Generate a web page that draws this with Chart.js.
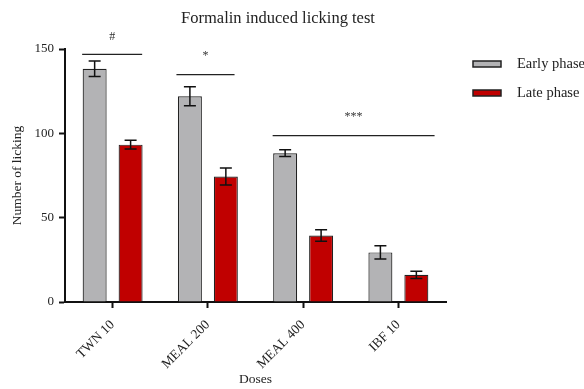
<!DOCTYPE html>
<html>
<head>
<meta charset="utf-8">
<script src="https://cdn.jsdelivr.net/npm/chart.js@4.4.1/dist/chart.umd.min.js"></script>
<style>
  html, body { margin: 0; padding: 0; background: #fff; }
  #wrap { width: 584px; height: 389px; }
</style>
</head>
<body>
<div id="wrap"><canvas id="myChart" width="584" height="389"></canvas></div>
<script>
// values
const doses = ["TWN 10", "MEAL 200", "MEAL 400", "IBF 10"];
const earlyPhase = [138.3, 122, 88.2, 29.4];
const earlyErr = [4.6, 5.6, 2.0, 3.9];
const latePhase = [93.3, 74.4, 39.4, 16.1];
const lateErr = [2.6, 5.0, 3.4, 2.1];

// significance marks: label, first/last category, line level, text level
const sigLabels = ["#", "*", "***"];
const sigFrom = [0, 1, 2];
const sigTo = [0, 1, 3];
const sigStart = [-0.32, -0.33, -0.32];
const sigEnd = [0.31, 0.28, 0.38];
const sigLine = [146.8, 134.8, 98.6];
const sigText = [157, 146, 110];

const chartTitle = "Formalin induced licking test";
const serif = "'Liberation Serif', 'Times New Roman', serif";

const errorBars = {
    id: "errorBars",
    afterDatasetsDraw(chart) {
        const ctx = chart.ctx;
        const y = chart.scales.y;
        const errs = [earlyErr, lateErr];
        ctx.save();
        ctx.strokeStyle = "#111";
        ctx.lineWidth = 1.5;
        chart.data.datasets.forEach((ds, di) => {
            chart.getDatasetMeta(di).data.forEach((bar, i) => {
                const top = y.getPixelForValue(ds.data[i] + errs[di][i]);
                const bot = y.getPixelForValue(ds.data[i] - errs[di][i]);
                ctx.beginPath();
                ctx.moveTo(bar.x, top);
                ctx.lineTo(bar.x, bot);
                ctx.moveTo(bar.x - 6, top);
                ctx.lineTo(bar.x + 6, top);
                ctx.moveTo(bar.x - 6, bot);
                ctx.lineTo(bar.x + 6, bot);
                ctx.stroke();
            });
        });
        ctx.restore();
    }
};

const sigMarks = {
    id: "sigMarks",
    afterDraw(chart) {
        const ctx = chart.ctx;
        const x = chart.scales.x;
        const y = chart.scales.y;
        const step = x.getPixelForValue(1) - x.getPixelForValue(0);
        ctx.save();
        ctx.strokeStyle = "#222";
        ctx.lineWidth = 1.2;
        ctx.fillStyle = "#333";
        ctx.font = "12px " + serif;
        ctx.textAlign = "center";
        ctx.textBaseline = "middle";
        sigLabels.forEach((lab, i) => {
            const x0 = x.getPixelForValue(sigFrom[i]) + sigStart[i] * step;
            const x1 = x.getPixelForValue(sigTo[i]) + sigEnd[i] * step;
            const ly = y.getPixelForValue(sigLine[i]);
            ctx.beginPath();
            ctx.moveTo(x0, ly);
            ctx.lineTo(x1, ly);
            ctx.stroke();
            ctx.fillText(lab, (x0 + x1) / 2, y.getPixelForValue(sigText[i]));
        });
        // title
        ctx.fillStyle = "#222";
        ctx.font = "16.5px " + serif;
        ctx.fillText(chartTitle, chart.width / 2 - 14, 19);
        ctx.restore();
    }
};

const sideLegend = {
    id: "sideLegend",
    afterDraw(chart) {
        const ctx = chart.ctx;
        const left = chart.chartArea.right + 27;
        ctx.save();
        ctx.font = "14.5px " + serif;
        ctx.textBaseline = "middle";
        chart.data.datasets.forEach((ds, i) => {
            const cy = 64 + i * 29;
            ctx.fillStyle = ds.backgroundColor;
            ctx.fillRect(left, cy - 3, 28, 6);
            ctx.strokeStyle = "#222";
            ctx.lineWidth = 1.5;
            ctx.strokeRect(left, cy - 3, 28, 6);
            ctx.fillStyle = "#222";
            ctx.fillText(ds.label, left + 44, cy);
        });
        ctx.restore();
    }
};

new Chart("myChart", {
    type: "bar",
    data: {
        labels: doses,
        datasets: [{
            label: "Early phase",
            data: earlyPhase,
            backgroundColor: "#b3b3b5",
            borderColor: "#222",
            borderWidth: 1.2
        }, {
            label: "Late phase",
            data: latePhase,
            backgroundColor: "#c00000",
            borderColor: "#222",
            borderWidth: 1.2
        }]
    },
    options: {
        responsive: false,
        animation: false,
        categoryPercentage: 0.755,
        barPercentage: 0.667,
        layout: {padding: {right: 138, top: 49, left: 0, bottom: 0}},
        plugins: {
            legend: {display: false},
            tooltip: {enabled: false},
            title: {display: false}
        },
        scales: {
            x: {
                afterFit: (scale) => { scale.height = 87; },
                border: {display: true, color: "#111", width: 2},
                grid: {display: true, drawOnChartArea: false, offset: false, tickLength: 6, tickWidth: 2, tickColor: "#111"},
                ticks: {color: "#222", font: {family: serif, size: 13.5}, minRotation: 45, maxRotation: 45, padding: 9},
                title: {display: true, text: "Doses", color: "#222", font: {family: serif, size: 13.5}, padding: {top: 0, bottom: 1}}
            },
            y: {
                min: 0,
                max: 150,
                afterFit: (scale) => { scale.width = 65; },
                border: {display: true, color: "#111", width: 2},
                grid: {display: true, drawOnChartArea: false, tickLength: 6, tickWidth: 2, tickColor: "#111"},
                ticks: {stepSize: 50, color: "#222", font: {family: serif, size: 13}, padding: 5},
                title: {display: true, text: "Number of licking", color: "#222", font: {family: serif, size: 13.5}, padding: {top: 9, bottom: 0}}
            }
        }
    },
    plugins: [errorBars, sigMarks, sideLegend]
});
</script>
</body>
</html>
